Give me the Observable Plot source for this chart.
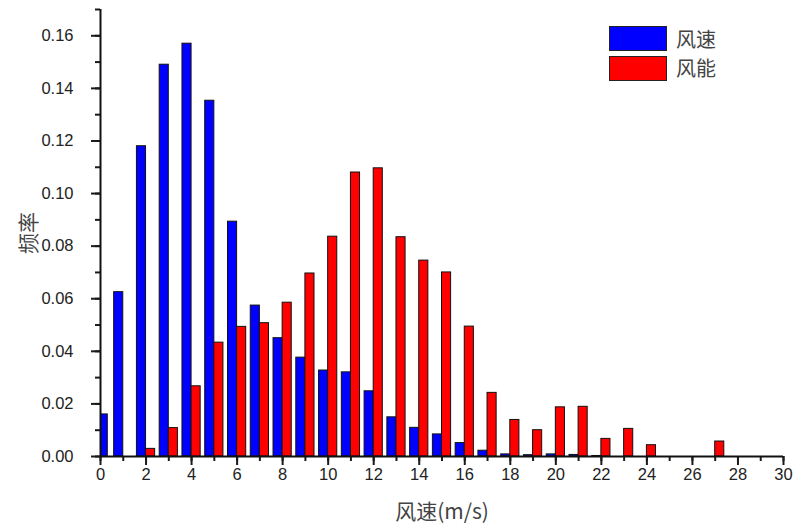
<!DOCTYPE html>
<html><head><meta charset="utf-8">
<script src="https://cdn.jsdelivr.net/npm/d3@7"></script>
<script src="https://cdn.jsdelivr.net/npm/@observablehq/plot@0.6"></script>
<style>
body{margin:0;background:#fff;}
#wrap{position:relative;width:798px;height:527px;}
.legend{position:absolute;left:609px;top:24px;font-family:"Noto Sans CJK SC","Liberation Sans",sans-serif;font-size:20px;color:#444;}
.legend .row{display:flex;align-items:center;height:29.5px;}
.legend .sw{width:58px;height:25px;border:1px solid #222;box-sizing:border-box;margin-right:9px;}
.legend .lbl{display:inline-block;line-height:1;}
</style></head><body><div id="wrap"></div>
<script>
// 风速 frequency: bin right edge (m/s) and frequency
const speedBins = [0.32, 1, 2, 3, 4, 5, 6, 7, 8, 9, 10, 11, 12, 13, 14, 15, 16, 17, 18, 19, 20, 21, 22];
const speedFreq = [0.016, 0.0625, 0.118, 0.149, 0.157, 0.1353, 0.0893, 0.0574, 0.045, 0.0376, 0.0327, 0.032, 0.0248, 0.0149, 0.0109, 0.0084, 0.0051, 0.0022, 0.0008, 0.0005, 0.0008, 0.0006, 0.0002];
// 风能 frequency: bin left edge (m/s) and frequency
const energyBins = [2, 3, 4, 5, 6, 7, 8, 9, 10, 11, 12, 13, 14, 15, 16, 17, 18, 19, 20, 21, 22, 23, 24, 27];
const energyFreq = [0.0029, 0.0108, 0.0267, 0.0433, 0.0493, 0.0507, 0.0585, 0.0696, 0.0836, 0.108, 0.1096, 0.0834, 0.0745, 0.070, 0.0494, 0.0242, 0.0139, 0.010, 0.0187, 0.0189, 0.0067, 0.0105, 0.0043, 0.0057];
const seriesNames = ["风速", "风能"];
const seriesColors = ["#0000ff", "#ff0000"];
const xTicks = d3.range(0, 31, 2);
const xMinorTicks = d3.range(0, 31, 1);
const yTicks = d3.range(0, 0.161, 0.02);
const yMinorTicks = d3.range(0, 0.171, 0.01);
const barWidth = 0.4;

const speed = speedBins.map((x, i) => ({x, y: speedFreq[i]}));
const energy = energyBins.map((x, i) => ({x, y: energyFreq[i]}));

const font = '"Liberation Sans", Arial, "Noto Sans CJK SC", sans-serif';
const chart = Plot.plot({
  width: 798, height: 527,
  marginLeft: 100, marginRight: 15, marginTop: 9, marginBottom: 71,
  style: {fontFamily: font, fontSize: "16px", color: "#1a1a1a", background: "#fff"},
  x: {domain: [0, 30]},
  y: {domain: [0, 0.17]},
  marks: [
    Plot.rectY(speed, {x1: d => d.x - barWidth, x2: "x", y: "y", fill: seriesColors[0], stroke: "#111", strokeWidth: 1, clip: true}),
    Plot.rectY(energy, {x1: "x", x2: d => d.x + barWidth, y: "y", fill: seriesColors[1], stroke: "#111", strokeWidth: 1, clip: true}),
    Plot.axisX({ticks: xMinorTicks, tickSize: 5, text: null, label: null, strokeWidth: 2}),
    Plot.axisX({ticks: xTicks, tickSize: 9, tickPadding: 3, strokeWidth: 2, tickFormat: d3.format("d"),
      label: "风速(m/s)", labelAnchor: "center", labelArrow: "none", labelOffset: 62}),
    Plot.axisY({ticks: yMinorTicks, tickSize: 5, text: null, label: null, strokeWidth: 2}),
    Plot.axisY({ticks: yTicks, tickSize: 9, tickPadding: 18, strokeWidth: 2, tickFormat: d3.format(".2f"),
      label: "频率", labelAnchor: "center", labelArrow: "none", labelOffset: 79}),
    Plot.ruleY([0], {stroke: "#111", strokeWidth: 2}),
    Plot.ruleX([0], {stroke: "#111", strokeWidth: 2})
  ]
});
// Style tick labels and axis labels
d3.select(chart).selectAll("g[aria-label='x-axis tick label'] text, g[aria-label='y-axis tick label'] text")
  .style("font-size", "16.5px").style("fill", "#222");
d3.select(chart).selectAll("g[aria-label='x-axis label'] text, g[aria-label='y-axis label'] text")
  .style("font-family", '"Noto Sans CJK SC", sans-serif').style("font-size", "21px").style("fill", "#444");
const wrap = document.getElementById("wrap");
wrap.appendChild(chart);
const legend = document.createElement("div");
legend.className = "legend";
seriesNames.forEach((name, i) => {
  const row = document.createElement("div");
  row.className = "row";
  const sw = document.createElement("div");
  sw.className = "sw";
  sw.style.background = seriesColors[i];
  const t = document.createElement("span");
  t.className = "lbl";
  t.textContent = name;
  row.appendChild(sw); row.appendChild(t);
  legend.appendChild(row);
});
wrap.appendChild(legend);
</script></body></html>
